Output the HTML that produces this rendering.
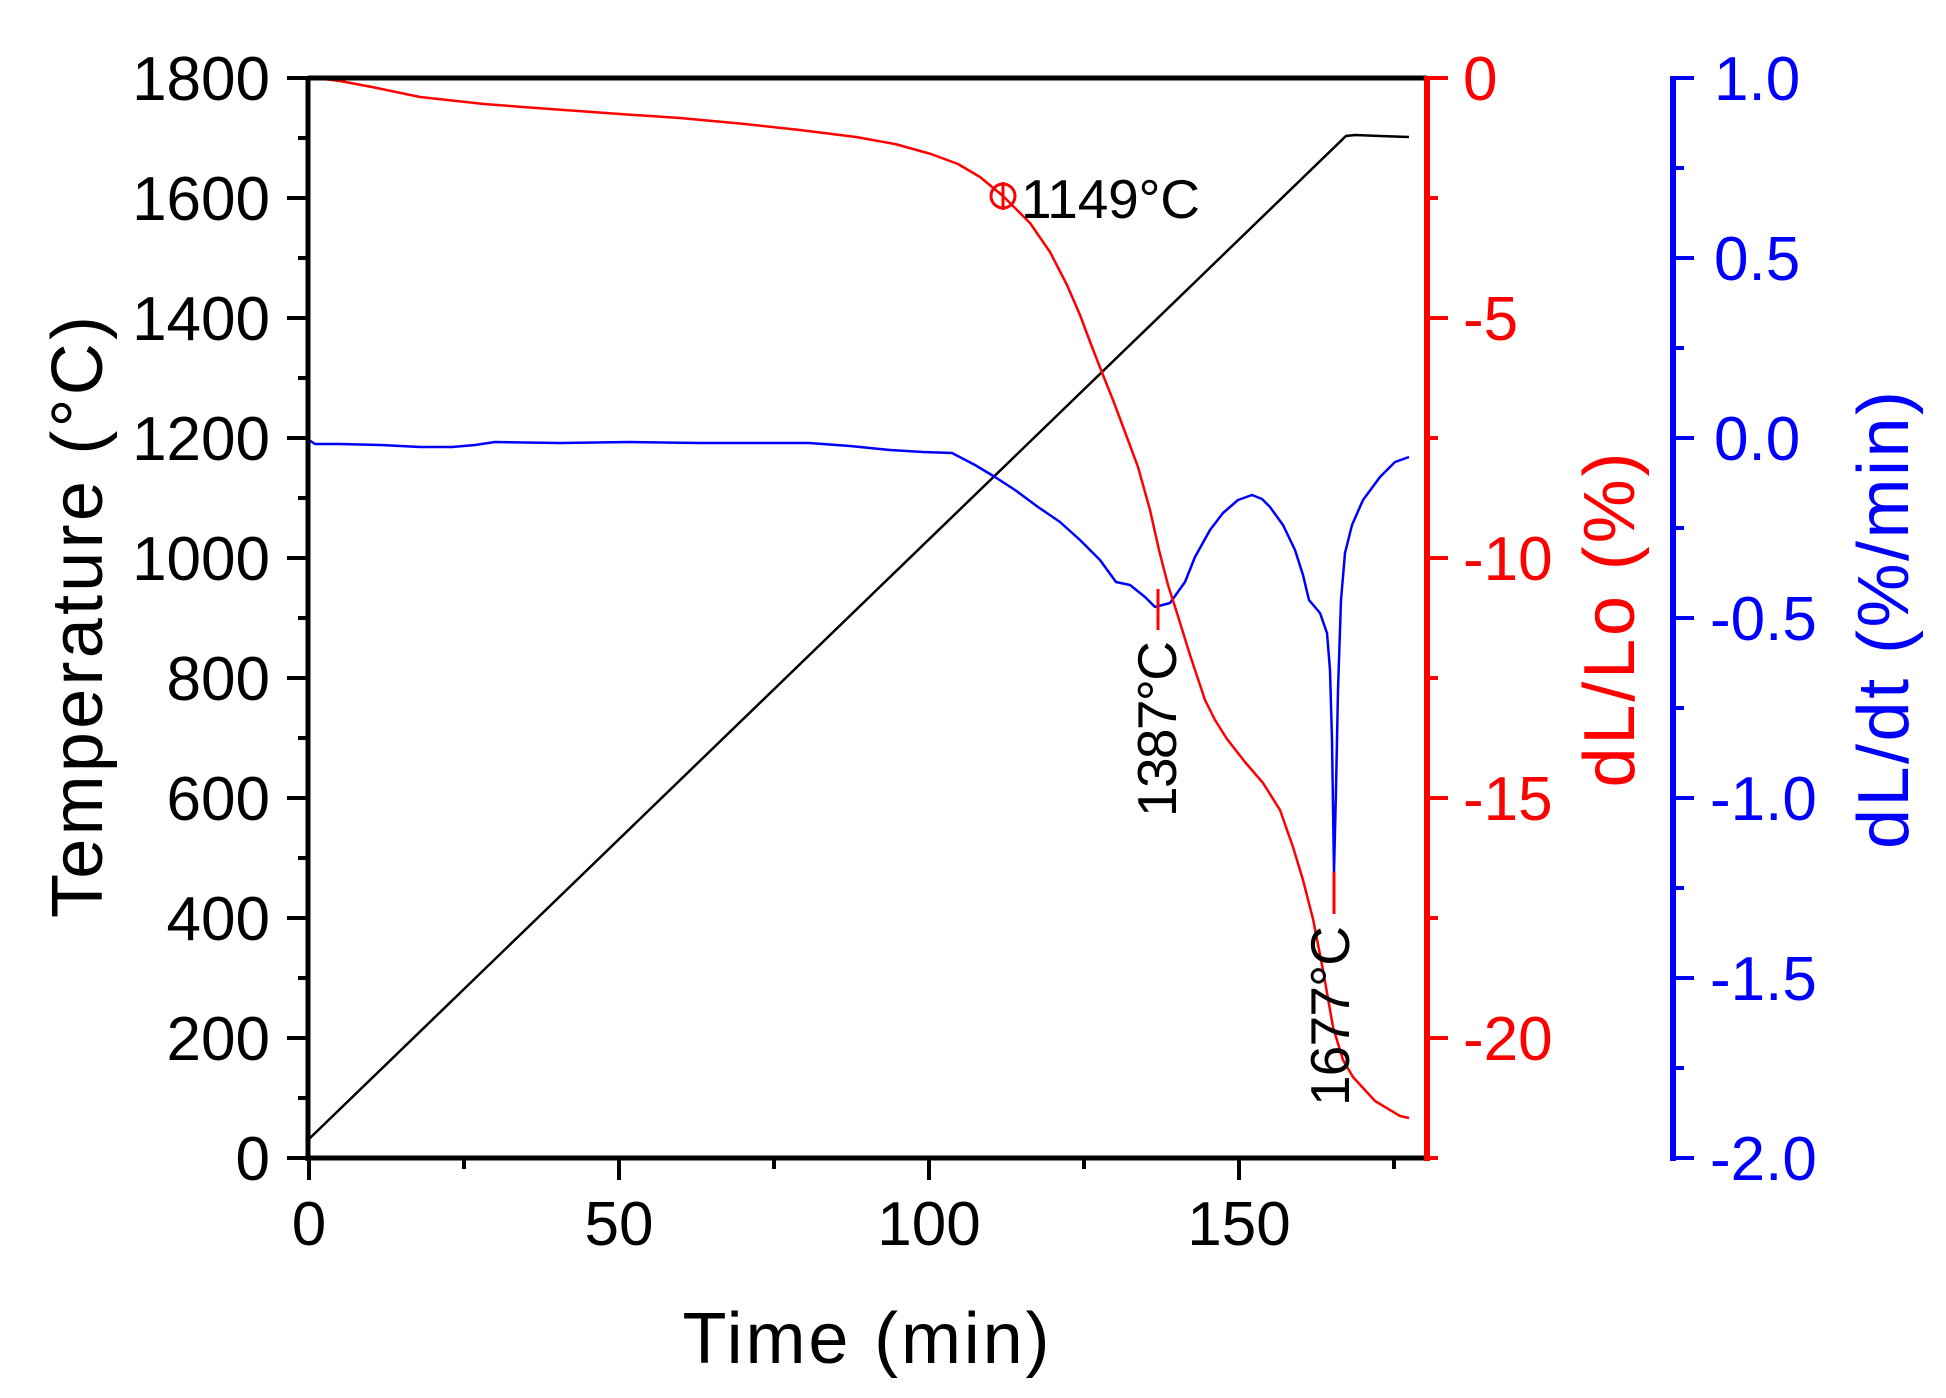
<!DOCTYPE html>
<html><head><meta charset="utf-8"><style>
html,body{margin:0;padding:0;background:#fff}
svg{display:block}
text{font-family:"Liberation Sans",Arial,sans-serif}
</style></head><body>
<svg width="1946" height="1398" viewBox="0 0 1946 1398" xmlns="http://www.w3.org/2000/svg">
<rect width="1946" height="1398" fill="#fff"/>
<polyline fill="none" stroke="#000" stroke-width="2.5" points="309,1139 1346,136 1355,135 1380,136 1409,137"/>
<polyline fill="none" stroke="#00f" stroke-width="2.5" stroke-linejoin="round" points="309,440 315,444 340,444 380,445 420,447 452,447 475,445 495,442 560,443 630,442 700,443 760,443 809,443 850,446 890,450 923,452 952,453 975,465 995,477 1015,490 1038,507 1060,522 1080,540 1100,560 1116,582 1130,585 1145,597 1155,607 1170,603 1185,582 1195,557 1210,530 1223,513 1238,500 1252,495 1262,499 1270,507 1283,525 1295,550 1303,575 1309,600 1320,613 1327,633 1330,670 1332,740 1334,872 1336,790 1338,690 1341,600 1345,553 1352,525 1363,500 1380,477 1395,462 1409,457"/>
<polyline fill="none" stroke="#f00" stroke-width="2.5" stroke-linejoin="round" points="308,77 340,81 372,87 420,97 484,104 550,109 620,114 680,118 745,124 800,130 856,137 895,144 931,154 958,164 980,177 1003,196 1030,223 1050,252 1067,285 1080,315 1092,347 1103,375 1113,400 1125,432 1138,467 1150,510 1159,550 1168,585 1177,613 1190,655 1205,700 1215,720 1227,739 1245,762 1263,783 1280,810 1293,847 1303,880 1313,919 1323,970 1333,1027 1343,1060 1353,1077 1375,1101 1400,1116 1409,1118"/>
<circle cx="1003" cy="196" r="12" fill="none" stroke="#f00" stroke-width="3"/>
<line x1="1003" y1="182" x2="1003" y2="210" stroke="#f00" stroke-width="3"/>
<line x1="1158" y1="589" x2="1158" y2="630" stroke="#f00" stroke-width="3"/>
<line x1="1334" y1="872" x2="1334" y2="914" stroke="#f00" stroke-width="3"/>
<g stroke="#000" stroke-width="5">
<line x1="308" y1="78" x2="1427" y2="78"/>
<line x1="308" y1="76" x2="308" y2="1161"/>
<line x1="306" y1="1158" x2="1427" y2="1158"/>
</g>
<g stroke="#000" stroke-width="4">
<line x1="287" y1="78" x2="308" y2="78"/><line x1="287" y1="198" x2="308" y2="198"/><line x1="287" y1="318" x2="308" y2="318"/><line x1="287" y1="438" x2="308" y2="438"/><line x1="287" y1="558" x2="308" y2="558"/><line x1="287" y1="678" x2="308" y2="678"/><line x1="287" y1="798" x2="308" y2="798"/><line x1="287" y1="918" x2="308" y2="918"/><line x1="287" y1="1038" x2="308" y2="1038"/><line x1="287" y1="1158" x2="308" y2="1158"/>
<line x1="298" y1="138" x2="308" y2="138"/><line x1="298" y1="258" x2="308" y2="258"/><line x1="298" y1="378" x2="308" y2="378"/><line x1="298" y1="498" x2="308" y2="498"/><line x1="298" y1="618" x2="308" y2="618"/><line x1="298" y1="738" x2="308" y2="738"/><line x1="298" y1="858" x2="308" y2="858"/><line x1="298" y1="978" x2="308" y2="978"/><line x1="298" y1="1098" x2="308" y2="1098"/>
<line x1="309" y1="1158" x2="309" y2="1180"/><line x1="619" y1="1158" x2="619" y2="1180"/><line x1="929" y1="1158" x2="929" y2="1180"/><line x1="1239" y1="1158" x2="1239" y2="1180"/>
<line x1="464" y1="1158" x2="464" y2="1169"/><line x1="774" y1="1158" x2="774" y2="1169"/><line x1="1084" y1="1158" x2="1084" y2="1169"/><line x1="1394" y1="1158" x2="1394" y2="1169"/>
</g>
<g stroke="#f00" stroke-width="6">
<line x1="1427" y1="76" x2="1427" y2="1161"/>
</g>
<g stroke="#f00" stroke-width="4">
<line x1="1427" y1="78" x2="1448" y2="78"/><line x1="1427" y1="318" x2="1448" y2="318"/><line x1="1427" y1="558" x2="1448" y2="558"/><line x1="1427" y1="798" x2="1448" y2="798"/><line x1="1427" y1="1038" x2="1448" y2="1038"/><line x1="1427" y1="1158" x2="1438" y2="1158"/>
<line x1="1427" y1="198" x2="1438" y2="198"/><line x1="1427" y1="438" x2="1438" y2="438"/><line x1="1427" y1="678" x2="1438" y2="678"/><line x1="1427" y1="918" x2="1438" y2="918"/>
</g>
<g stroke="#00f" stroke-width="6"><line x1="1673" y1="76" x2="1673" y2="1161"/></g>
<g stroke="#00f" stroke-width="4">
<line x1="1673" y1="78" x2="1694" y2="78"/><line x1="1673" y1="258" x2="1694" y2="258"/><line x1="1673" y1="438" x2="1694" y2="438"/><line x1="1673" y1="618" x2="1694" y2="618"/><line x1="1673" y1="798" x2="1694" y2="798"/><line x1="1673" y1="978" x2="1694" y2="978"/><line x1="1673" y1="1158" x2="1694" y2="1158"/>
<line x1="1673" y1="168" x2="1684" y2="168"/><line x1="1673" y1="348" x2="1684" y2="348"/><line x1="1673" y1="528" x2="1684" y2="528"/><line x1="1673" y1="708" x2="1684" y2="708"/><line x1="1673" y1="888" x2="1684" y2="888"/><line x1="1673" y1="1068" x2="1684" y2="1068"/>
</g>
<g font-size="62" text-anchor="end" fill="#000">
<text x="270" y="100">1800</text><text x="270" y="220">1600</text><text x="270" y="340">1400</text><text x="270" y="460">1200</text><text x="270" y="580">1000</text><text x="270" y="700">800</text><text x="270" y="820">600</text><text x="270" y="940">400</text><text x="270" y="1060">200</text><text x="270" y="1180">0</text>
</g>
<g font-size="62" text-anchor="middle" fill="#000">
<text x="309" y="1245">0</text><text x="619" y="1245">50</text><text x="929" y="1245">100</text><text x="1239" y="1245">150</text>
</g>
<g font-size="62" fill="#f00">
<text x="1463" y="100">0</text><text x="1463" y="340">-5</text><text x="1463" y="580">-10</text><text x="1463" y="820">-15</text><text x="1463" y="1060">-20</text>
</g>
<g font-size="62" fill="#00f">
<text x="1714" y="100">1.0</text><text x="1714" y="280">0.5</text><text x="1714" y="460">0.0</text><text x="1710" y="640">-0.5</text><text x="1710" y="820">-1.0</text><text x="1710" y="1000">-1.5</text><text x="1710" y="1180">-2.0</text>
</g>
<text x="866" y="1363" font-size="72" text-anchor="middle" textLength="367" fill="#000">Time (min)</text>
<text transform="translate(102,617) rotate(-90)" font-size="72" text-anchor="middle" textLength="602" fill="#000">Temperature (°C)</text>
<text transform="translate(1634,620) rotate(-90)" font-size="72" text-anchor="middle" textLength="335" fill="#f00">dL/Lo (%)</text>
<text transform="translate(1908,620) rotate(-90)" font-size="72" text-anchor="middle" textLength="458" fill="#00f">dL/dt (%/min)</text>
<text x="1021" y="218" font-size="55" textLength="179" fill="#000">1149°C</text>
<text transform="translate(1176,817) rotate(-90)" font-size="55" textLength="176" fill="#000">1387°C</text>
<text transform="translate(1349,1106) rotate(-90)" font-size="55" textLength="180" fill="#000">1677°C</text>
</svg>
</body></html>
